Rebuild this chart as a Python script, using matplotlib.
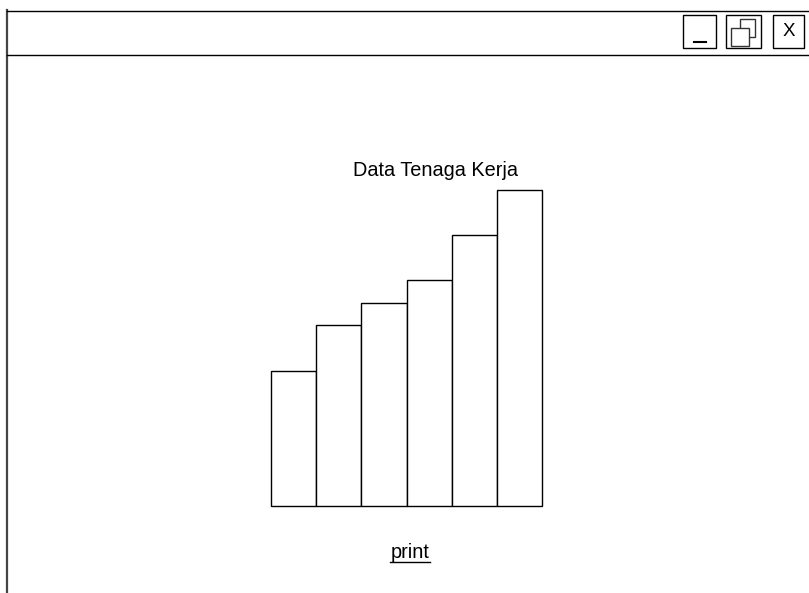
"""Wireframe: Data Tenaga Kerja"""

import matplotlib
matplotlib.use('Agg')
import matplotlib.pyplot as plt
from matplotlib.patches import Rectangle

plt.rcParams['font.family'] = ['Liberation Sans', 'DejaVu Sans']

# data
categories = ['1', '2', '3', '4', '5', '6']
values = [3, 4, 4.5, 5, 6, 7]
title = 'Data Tenaga Kerja'
link_text = 'print'

W, H = 809, 593
fig = plt.figure(figsize=(W / 100, H / 100), dpi=100)
fig.patch.set_facecolor('white')

# window frame, drawn in pixel coords
frame = fig.add_axes([0, 0, 1, 1])
frame.set_xlim(0, W)
frame.set_ylim(H, 0)
frame.axis('off')

frame.plot([7, 7], [10, H], color='#444444', lw=1.6)
frame.plot([7, W], [10.5, 10.5], color='black', lw=1.0)
frame.plot([7, W], [54.5, 54.5], color='black', lw=1.0)

# window buttons
for x0, x1 in [(683, 716), (726, 761), (773, 804)]:
    frame.add_patch(Rectangle((x0, 15), x1 - x0, 33, fill=False,
                              edgecolor='black', lw=1.0))
frame.plot([694, 706], [42, 42], color='black', lw=1.5)
frame.add_patch(Rectangle((740, 19), 15, 18, fill=False, edgecolor='#333333', lw=1.0))
frame.add_patch(Rectangle((731, 28), 18, 18, facecolor='white', edgecolor='#333333', lw=1.0))
frame.text(788.5, 32, 'X', ha='center', va='center', fontsize=13.5)

frame.text(436, 171, title, ha='center', va='center', fontsize=14.3)
frame.text(410, 553, link_text, ha='center', va='center', fontsize=14.3)
frame.plot([390, 430], [562, 562], color='black', lw=1.0)

# bar chart
ax = fig.add_axes([271 / W, (H - 506) / H, 271 / W, 316 / H])
ax.bar(range(len(values)), values, width=1.0, color='white',
       edgecolor='black', linewidth=1.0, clip_on=False)
ax.set_xlim(-0.5, len(values) - 0.5)
ax.set_ylim(0, 7)
ax.axis('off')

fig.savefig('out.png', dpi=100, facecolor='white')
